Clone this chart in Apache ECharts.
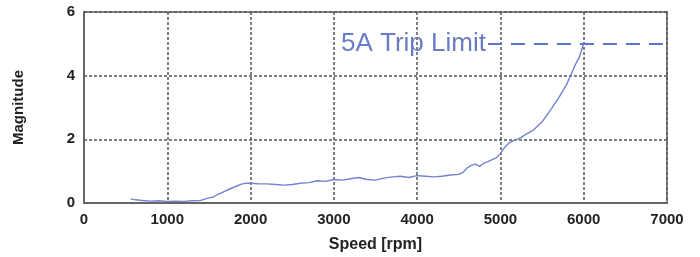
<!DOCTYPE html>
<html>
<head>
<meta charset="utf-8">
<script src="https://cdn.jsdelivr.net/npm/echarts@6/dist/echarts.min.js"></script>
<style>html,body{margin:0;padding:0;background:#fff}#c{width:700px;height:257px}</style>
</head>
<body>
<div id="c"></div>
<script>
const speedRpm = [560, 620, 700, 800, 900, 1000, 1100, 1200, 1300, 1400, 1450, 1500, 1550, 1600, 1650, 1700, 1750, 1800, 1850, 1900, 1950, 2000, 2100, 2200, 2300, 2400, 2500, 2600, 2700, 2800, 2900, 3000, 3100, 3200, 3300, 3400, 3500, 3600, 3700, 3800, 3900, 4000, 4100, 4200, 4300, 4400, 4500, 4550, 4600, 4650, 4700, 4750, 4800, 4850, 4900, 4950, 5000, 5050, 5100, 5150, 5200, 5250, 5300, 5400, 5500, 5600, 5700, 5800, 5850, 5900, 5950, 6000];
const magnitude = [0.13, 0.1, 0.08, 0.06, 0.07, 0.05, 0.06, 0.05, 0.07, 0.08, 0.12, 0.16, 0.18, 0.26, 0.32, 0.38, 0.44, 0.5, 0.55, 0.6, 0.62, 0.62, 0.6, 0.6, 0.58, 0.56, 0.58, 0.62, 0.64, 0.7, 0.68, 0.74, 0.72, 0.76, 0.8, 0.74, 0.72, 0.78, 0.82, 0.84, 0.8, 0.86, 0.84, 0.82, 0.84, 0.88, 0.9, 0.96, 1.1, 1.18, 1.22, 1.15, 1.25, 1.3, 1.36, 1.42, 1.55, 1.75, 1.88, 1.95, 2.0, 2.06, 2.15, 2.3, 2.55, 2.92, 3.3, 3.75, 4.05, 4.35, 4.6, 5.02];
const xTicks = [0, 1000, 2000, 3000, 4000, 5000, 6000, 7000];
const yTicks = [0, 2, 4, 6];
const tripLimit = 5;
const tripStart = 4850;
const tripEnd = 7000;
const tripLabel = '5A Trip Limit';
const xName = 'Speed [rpm]';
const yName = 'Magnitude';

const font = "'Liberation Sans', Arial, sans-serif";
const chart = echarts.init(document.getElementById('c'), null, {renderer: 'canvas'});
chart.setOption({
  animation: false,
  grid: {left: 84, right: 33, top: 12, bottom: 54, outerBoundsMode: 'none', containLabel: false, show: true, borderColor: '#8a8a8a', borderWidth: 2, backgroundColor: 'transparent'},
  xAxis: {
    type: 'value', min: xTicks[0], max: xTicks[xTicks.length - 1], interval: 1000,
    name: xName, nameLocation: 'middle', nameGap: 34,
    nameTextStyle: {fontFamily: font, fontWeight: 'bold', fontSize: 16, color: '#222'},
    axisLine: {show: true, lineStyle: {color: '#666', width: 2}},
    axisTick: {show: false},
    axisLabel: {fontFamily: font, fontWeight: 'bold', fontSize: 15, color: '#222', margin: 9, formatter: v => String(v)},
    splitLine: {show: true, lineStyle: {color: '#555', width: 1.5, type: [3, 2]}}
  },
  yAxis: {
    type: 'value', min: yTicks[0], max: yTicks[yTicks.length - 1], interval: 2,
    name: yName, nameLocation: 'middle', nameGap: 58, nameRotate: 90,
    nameTextStyle: {fontFamily: font, fontWeight: 'bold', fontSize: 15, color: '#222'},
    axisLine: {show: true, lineStyle: {color: '#666', width: 2}},
    axisTick: {show: false},
    axisLabel: {fontFamily: font, fontWeight: 'bold', fontSize: 15, color: '#222', margin: 9, formatter: v => String(v)},
    splitLine: {show: true, lineStyle: {color: '#555', width: 1.5, type: [3, 2]}}
  },
  series: [{
    type: 'line',
    data: speedRpm.map((s, i) => [s, magnitude[i]]),
    showSymbol: false,
    lineStyle: {color: '#7482cf', width: 1.4},
    markLine: {
      silent: true,
      symbol: 'none',
      lineStyle: {color: '#5b76c6', width: 2, type: [14, 9]},
      label: {show: true, position: 'start', formatter: tripLabel, fontFamily: font, fontSize: 26, color: '#6a7cc6', distance: 2},
      data: [[{coord: [tripStart, tripLimit]}, {coord: [tripEnd, tripLimit]}]]
    }
  }]
});
</script>
</body>
</html>
